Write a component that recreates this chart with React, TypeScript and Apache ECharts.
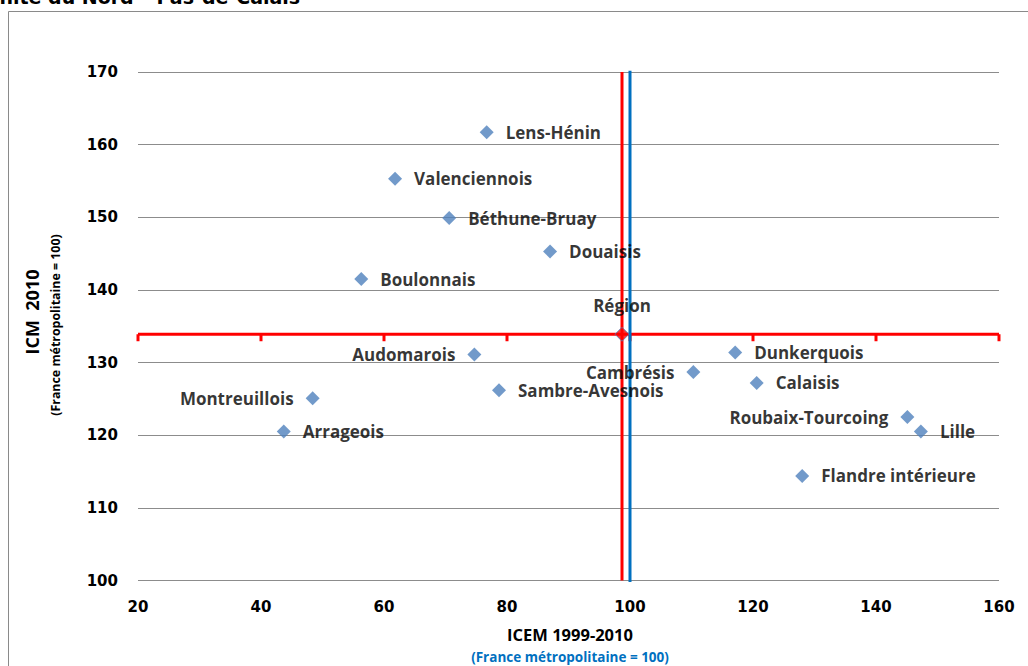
import React, { useEffect, useRef } from "react";
import * as echarts from "echarts";

const zones = [
  "Lens-Hénin", "Valenciennois", "Béthune-Bruay", "Douaisis", "Boulonnais",
  "Audomarois", "Dunkerquois", "Cambrésis", "Calaisis", "Sambre-Avesnois",
  "Montreuillois", "Roubaix-Tourcoing", "Arrageois", "Lille", "Flandre intérieure",
];
const icem = [76.7, 61.8, 70.6, 87.0, 56.3, 74.7, 117.1, 110.3, 120.6, 78.7, 48.4, 145.1, 43.7, 147.3, 128.0];
const icm = [161.7, 155.3, 149.9, 145.3, 141.5, 131.1, 131.4, 128.7, 127.2, 126.2, 125.1, 122.5, 120.5, 120.5, 114.4];

const regionName = "Région";
const regionIcem = 98.7;
const regionIcm = 133.9;
const franceRef = 100;

const xTicks = [20, 40, 60, 80, 100, 120, 140, 160];
const yTicks = [100, 110, 120, 130, 140, 150, 160, 170];

const titleText = "Unité du Nord – Pas-de-Calais";
const xTitle = "ICEM 1999-2010";
const yTitle = "ICM  2010";
const subTitle = "(France métropolitaine = 100)";

const leftLabelled = new Set(["Audomarois", "Cambrésis", "Montreuillois", "Roubaix-Tourcoing"]);

export default function App() {
  const ref = useRef<HTMLDivElement>(null);
  useEffect(() => {
    if (!ref.current) return;
    const chart = echarts.init(ref.current, null, { renderer: "svg" });
    const xMin = xTicks[0], xMax = xTicks[xTicks.length - 1];
    const yMin = yTicks[0], yMax = yTicks[yTicks.length - 1];
    const labelFont = { fontFamily: "Open Sans", fontWeight: "bold" as const, fontSize: 17, color: "#000" };
    const tickFont = { fontFamily: "DejaVu Sans", fontWeight: "bold" as const, fontSize: 15, color: "#000" };

    chart.setOption({
      animation: false,
      backgroundColor: "#fff",
      grid: { left: 138, right: 29, top: 72, bottom: 85.5 },
      xAxis: {
        type: "value", min: xMin, max: xMax, interval: 20,
        axisLine: { show: false }, axisTick: { show: false }, splitLine: { show: false },
        axisLabel: { ...tickFont, margin: 19 },
      },
      yAxis: {
        type: "value", min: yMin, max: yMax, interval: 10,
        axisLine: { show: false }, axisTick: { show: false },
        splitLine: { show: true, lineStyle: { color: "#8c8c8c", width: 1.2 } },
        axisLabel: { ...tickFont, margin: 20 },
      },
      graphic: [
        { type: "rect", shape: { x: 8.5, y: 11.5, width: 1100, height: 800 }, style: { fill: "none", stroke: "#8a8a8a", lineWidth: 1 }, silent: true },
        { type: "text", x: -16, y: 6, style: { text: titleText, font: "bold 19px 'DejaVu Sans'", fill: "#000", textAlign: "left", textVerticalAlign: "bottom" } },
        { type: "text", x: 570, y: 634, style: { text: xTitle, font: "bold 16.5px 'Open Sans'", fill: "#000", textAlign: "center", textVerticalAlign: "middle" } },
        { type: "text", x: 570, y: 657, style: { text: subTitle, font: "bold 13.5px 'Open Sans'", fill: "#0070C0", textAlign: "center", textVerticalAlign: "middle" } },
        { type: "text", x: 32, y: 312, rotation: Math.PI / 2, style: { text: yTitle, font: "bold 18px 'Open Sans'", fill: "#000", textAlign: "center", textVerticalAlign: "middle" } },
        { type: "text", x: 55, y: 325, rotation: Math.PI / 2, style: { text: subTitle, font: "bold 12.4px 'Open Sans'", fill: "#000", textAlign: "center", textVerticalAlign: "middle" } },
      ],
      series: [
        {
          type: "line", data: [[xMin, regionIcm], [xMax, regionIcm]], symbol: "none", silent: true,
          lineStyle: { color: "#FF0000", width: 3 }, z: 3,
        },
        {
          type: "custom", data: xTicks.map((x) => [x, regionIcm]), silent: true, z: 3,
          renderItem: (_p: any, api: any) => {
            const c = api.coord([api.value(0), api.value(1)]);
            return { type: "line", shape: { x1: c[0], y1: c[1], x2: c[0], y2: c[1] + 7 }, style: { stroke: "#FF0000", lineWidth: 3 } };
          },
        },
        {
          type: "line", data: [[regionIcem, yMin], [regionIcem, yMax]], symbol: "none", silent: true,
          lineStyle: { color: "#FF0000", width: 3 }, z: 4,
        },
        {
          type: "line", data: [[franceRef, yMin], [franceRef, yMax]], symbol: "none", silent: true,
          lineStyle: { color: "#0070C0", width: 3, cap: "square" }, z: 5,
        },
        {
          type: "scatter", symbol: "diamond", symbolSize: 14, z: 6,
          itemStyle: { color: "#4F81BD" },
          data: zones.map((n, i) => ({
            name: n, value: [icem[i], icm[i]],
            label: { show: true, formatter: n, position: leftLabelled.has(n) ? "left" : "right", distance: 12, ...labelFont },
          })),
        },
        {
          type: "scatter", symbol: "diamond", symbolSize: 14, z: 7,
          itemStyle: { color: "#FF0000", borderColor: "#4F81BD", borderWidth: 1 },
          data: [{ name: regionName, value: [regionIcem, regionIcm] }],
          label: { show: true, formatter: regionName, position: "top", distance: 13, ...labelFont },
        },
      ],
    });
    return () => chart.dispose();
  }, []);
  return <div ref={ref} style={{ position: "absolute", left: 0, top: 0, width: 1028, height: 666 }} />;
}
